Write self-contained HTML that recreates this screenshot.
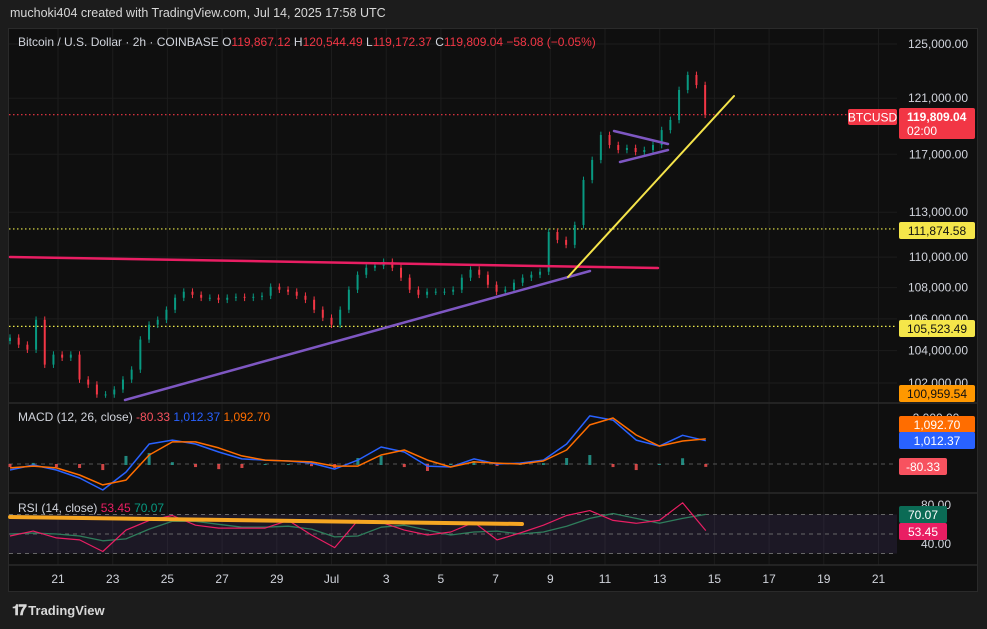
<!DOCTYPE html>
<html><head><meta charset="utf-8">
<style>
html,body{margin:0;padding:0;background:#1c1c1c;width:987px;height:629px;overflow:hidden;font-family:"Liberation Sans",sans-serif;}
#hdr{position:absolute;left:10px;top:6px;color:#d8d8d8;font-size:12.5px;}
#panel{position:absolute;left:8px;top:28px;width:970px;height:564px;background:#0f0f0f;border:1px solid #2a2a2a;box-sizing:border-box;}
#svg{position:absolute;left:0;top:0;}
#foot{position:absolute;left:12px;top:602px;color:#d8d8d8;font-size:13px;font-weight:bold;}
</style></head><body>
<div id="hdr">muchoki404 created with TradingView.com, Jul 14, 2025 17:58 UTC</div>
<div id="panel"></div>
<svg id="svg" width="987" height="629" font-family="Liberation Sans, sans-serif"></svg>
<div id="foot"><span style="font-size:15px;letter-spacing:-2px">𝟏𝟕</span> TradingView</div>
<script>
// ---- data ----
const closes = [104810,104370,104060,105940,103130,103750,103560,103750,102210,101900,101300,101300,101600,102210,102820,104690,105630,105940,106580,107350,107740,107540,107350,107350,107220,107350,107410,107350,107410,107480,108060,107870,107740,107480,107220,106580,106070,105630,106580,107870,108840,109300,109430,109690,109300,108650,107870,107540,107740,107740,107740,107870,108650,109170,108840,108190,107740,107870,108320,108650,108840,109040,111670,111140,110810,112140,115210,116600,118360,117650,117300,117440,117160,117300,117650,118710,119430,121600,122700,121960,119809];
const openFirst = 104600;
const macdVals = [-260,-43,-260,-610,-1130,-350,870,1040,870,520,220,170,130,40,-220,170,740,520,-90,-130,220,0,40,170,870,2090,1910,1040,780,1250,1012];
const signalVals = [-170,-90,-170,-480,-910,-700,390,960,960,700,350,170,130,90,-90,-90,390,610,170,-130,90,40,0,130,610,1700,2000,1260,780,1000,1093];
const rsiVals = [48,53,46,44,32,54,64,69,59,56,56,56,64,49,36,64,62,54,49,52,62,44,51,59,69,74,64,61,64,82,53.45];
const rsiMaVals = [50,51,50,48,43,45,55,63,63,60,57,57,58,55,47,48,57,59,54,49,52,53,50,52,58,66,71,66,61,66,70.07];
const priceTicks = [125000,121000,117000,113000,110000,108000,106000,104000,102000];
const dateTicks = [0,2,4,6,8,10,12,14,16,18,20,22,24,26,28,30];
const dateLabels = ["21","23","25","27","29","Jul","3","5","7","9","11","13","15","17","19","21"];
// ---- axes ----
const candleStart=-1.755, candleStep=0.3177, indStart=-1.755, indStep=0.848;
function xDay(d){return 58+d*27.35;}
function yPrice(p){return 44+(Math.log(125000)-Math.log(p))*1667;}
function yMacd(v){return 464-v*0.023;}
function yRsi(v){return 534-(v-50)*0.975;}
const S=document.getElementById('svg');const NS='http://www.w3.org/2000/svg';
function el(t,a,txt){const e=document.createElementNS(NS,t);for(const k in a)e.setAttribute(k,a[k]);if(txt!==undefined)e.textContent=txt;S.appendChild(e);return e;}
// grid
dateTicks.forEach((d,i)=>{const x=xDay(d);
 const g=el('line',{x1:x,x2:x,y1:29,y2:565,stroke:'#1c1c1c','stroke-width':1});
 
 
 const t=el('text',{x:x,y:583,fill:'#d1d4dc','font-size':12,'text-anchor':'middle'},dateLabels[i]);
 
 
});
priceTicks.forEach(p=>{const y=yPrice(p);
 const g=el('line',{x1:9,x2:897,y1:y,y2:y,stroke:'#1c1c1c','stroke-width':1});
 
 
 const t=el('text',{x:968,y:y+4,fill:'#d1d4dc','font-size':12,'text-anchor':'end'},p.toLocaleString('en-US')+'.00');
 
 
});
// pane separators
[403,493,565].forEach(y=>{const l=el('line',{x1:9,x2:977,y1:y,y2:y,stroke:'#2a2a2a','stroke-width':1.5});
 
 });
// horizontal levels
[[111874.58,'#e8e84a'],[105523.49,'#e8e84a'],[119809.04,'#f23645']].forEach(a=>{const y=yPrice(a[0]);
 const l=el('line',{x1:9,x2:897,y1:y,y2:y,stroke:a[1],'stroke-width':1.2,'stroke-dasharray':'1.5,2.5'});
 
 });
// candles
let prev=openFirst;
closes.forEach((c,i)=>{const x=xDay(candleStart+i*candleStep);const o=prev;prev=c;
 const up=c>=o;const col=up?'#089981':'#f23645';
 const hi=Math.max(o,c)*1.002,lo=Math.min(o,c)*0.998;
 const w=el('line',{x1:x,x2:x,y1:yPrice(hi),y2:yPrice(lo),stroke:col,'stroke-width':1});
 
 
 const y1=yPrice(Math.max(o,c)),y2=yPrice(Math.min(o,c));
 const b=el('rect',{x:x-1,y:y1,width:2,height:Math.max(1,y2-y1),fill:col});
 
 
});
// drawings
function ln(x1,y1,x2,y2,c,w,n){const l=el('line',{x1,y1,x2,y2,stroke:c,'stroke-width':w,'stroke-linecap':'round'});}
ln(10,257,658,268,'#e91e63',2.5,'resistance-line');
ln(125,400,590,271,'#7e57c2',2.5,'support-trendline');
ln(568,277,734,96,'#f5e44a',2,'uptrend-line');
ln(614,131,668,144,'#7e57c2',2.5,'pennant-upper');
ln(620,162,668,150,'#7e57c2',2.5,'pennant-lower');
// MACD
const zl=el('line',{x1:9,x2:897,y1:464,y2:464,stroke:'#555','stroke-dasharray':'4,4'});


macdVals.forEach((v,i)=>{const h=v-signalVals[i];const x=xDay(indStart+i*indStep);
 const r=el('rect',{x:x-1.5,y:Math.min(464,yMacd(h)),width:3,height:Math.abs(yMacd(h)-464)+1,fill:h>=0?'#26a69a':'#ff5252',opacity:0.8});
 
 });
function poly(vals,fy,col,w,n){const pts=vals.map((v,i)=>xDay(indStart+i*indStep).toFixed(1)+','+fy(v).toFixed(1)).join(' ');
 const p=el('polyline',{points:pts,fill:'none',stroke:col,'stroke-width':w,'stroke-linejoin':'round'});
 }
poly(macdVals,yMacd,'#2962ff',1.5,'macd-line');
poly(signalVals,yMacd,'#ff6d00',1.5,'signal-line');
// RSI
const band=el('rect',{x:9,y:yRsi(70),width:888,height:yRsi(30)-yRsi(70),fill:'rgba(126,87,194,0.12)'});


[70,50,30].forEach(v=>{const l=el('line',{x1:9,x2:897,y1:yRsi(v),y2:yRsi(v),stroke:'#666','stroke-dasharray':'4,4'});
 
 });
poly(rsiMaVals,yRsi,'#2e7d5b',1.3,'rsi-ma-line');
poly(rsiVals,yRsi,'#e91e63',1.2,'rsi-line');
ln(10,517,522,524,'#f5a623',4,'rsi-trendline');
// right labels
function lab(x,y,w,h,bg,txt,fg,n){const r=el('rect',{x,y,width:w,height:h,fill:bg,rx:2});
 const t=el('text',{x:x+w/2,y:y+h/2+4.5,fill:fg,'font-size':12,'text-anchor':'middle'},txt);}
[[80,'80.00'],[40,'40.00']].forEach(a=>{const t=el('text',{x:936,y:yRsi(a[0])+4,fill:'#d1d4dc','font-size':12,'text-anchor':'middle'},a[1]);});
const mt=el('text',{x:936,y:422,fill:'#d1d4dc','font-size':12,'text-anchor':'middle'},'2,000.00');
lab(848,109,49,16,'#f23645','BTCUSD','#fff','symbol-tag');
const pb=el('rect',{x:899,y:108,width:76,height:31,fill:'#f23645',rx:2});
const pt1=el('text',{x:907,y:121,fill:'#fff','font-size':12,'font-weight':'bold'},'119,809.04');
const pt2=el('text',{x:907,y:135,fill:'#fff','font-size':12},'02:00');
lab(899,222,76,17,'#f5e64a','111,874.58','#111','level-label-111874');
lab(899,320,76,17,'#f5e64a','105,523.49','#111','level-label-105523');
lab(899,385,76,17,'#ff9800','100,959.54','#111','level-label-100959');
lab(899,416,76,17,'#ff6d00','1,092.70','#fff','signal-value-label');
lab(899,432,76,17,'#2962ff','1,012.37','#fff','macd-value-label');
lab(899,458,48,17,'#f7525f','-80.33','#fff','histogram-value-label');
lab(899,506,48,17,'#0b6b55','70.07','#fff','rsi-ma-value-label');
lab(899,523,48,17,'#e91e63','53.45','#fff','rsi-value-label');
// legends
function leg(x,y,parts,n){const t=el('text',{x,y,'font-size':12});
 parts.forEach(p=>{const s=document.createElementNS(NS,'tspan');s.setAttribute('fill',p[1]);s.textContent=p[0];t.appendChild(s);});}
leg(18,46,[['Bitcoin / U.S. Dollar · 2h · COINBASE  ','#d1d4dc'],['O','#d1d4dc'],['119,867.12  ','#f23645'],['H','#d1d4dc'],['120,544.49  ','#f23645'],['L','#d1d4dc'],['119,172.37  ','#f23645'],['C','#d1d4dc'],['119,809.04  −58.08 (−0.05%)','#f23645']],'symbol-legend');
leg(18,421,[['MACD (12, 26, close)  ','#d1d4dc'],['-80.33  ','#f7525f'],['1,012.37  ','#2962ff'],['1,092.70','#ff6d00']],'macd-legend');
leg(18,512,[['RSI (14, close)  ','#d1d4dc'],['53.45  ','#e91e63'],['70.07','#089981']],'rsi-legend');
</script>
</body></html>
